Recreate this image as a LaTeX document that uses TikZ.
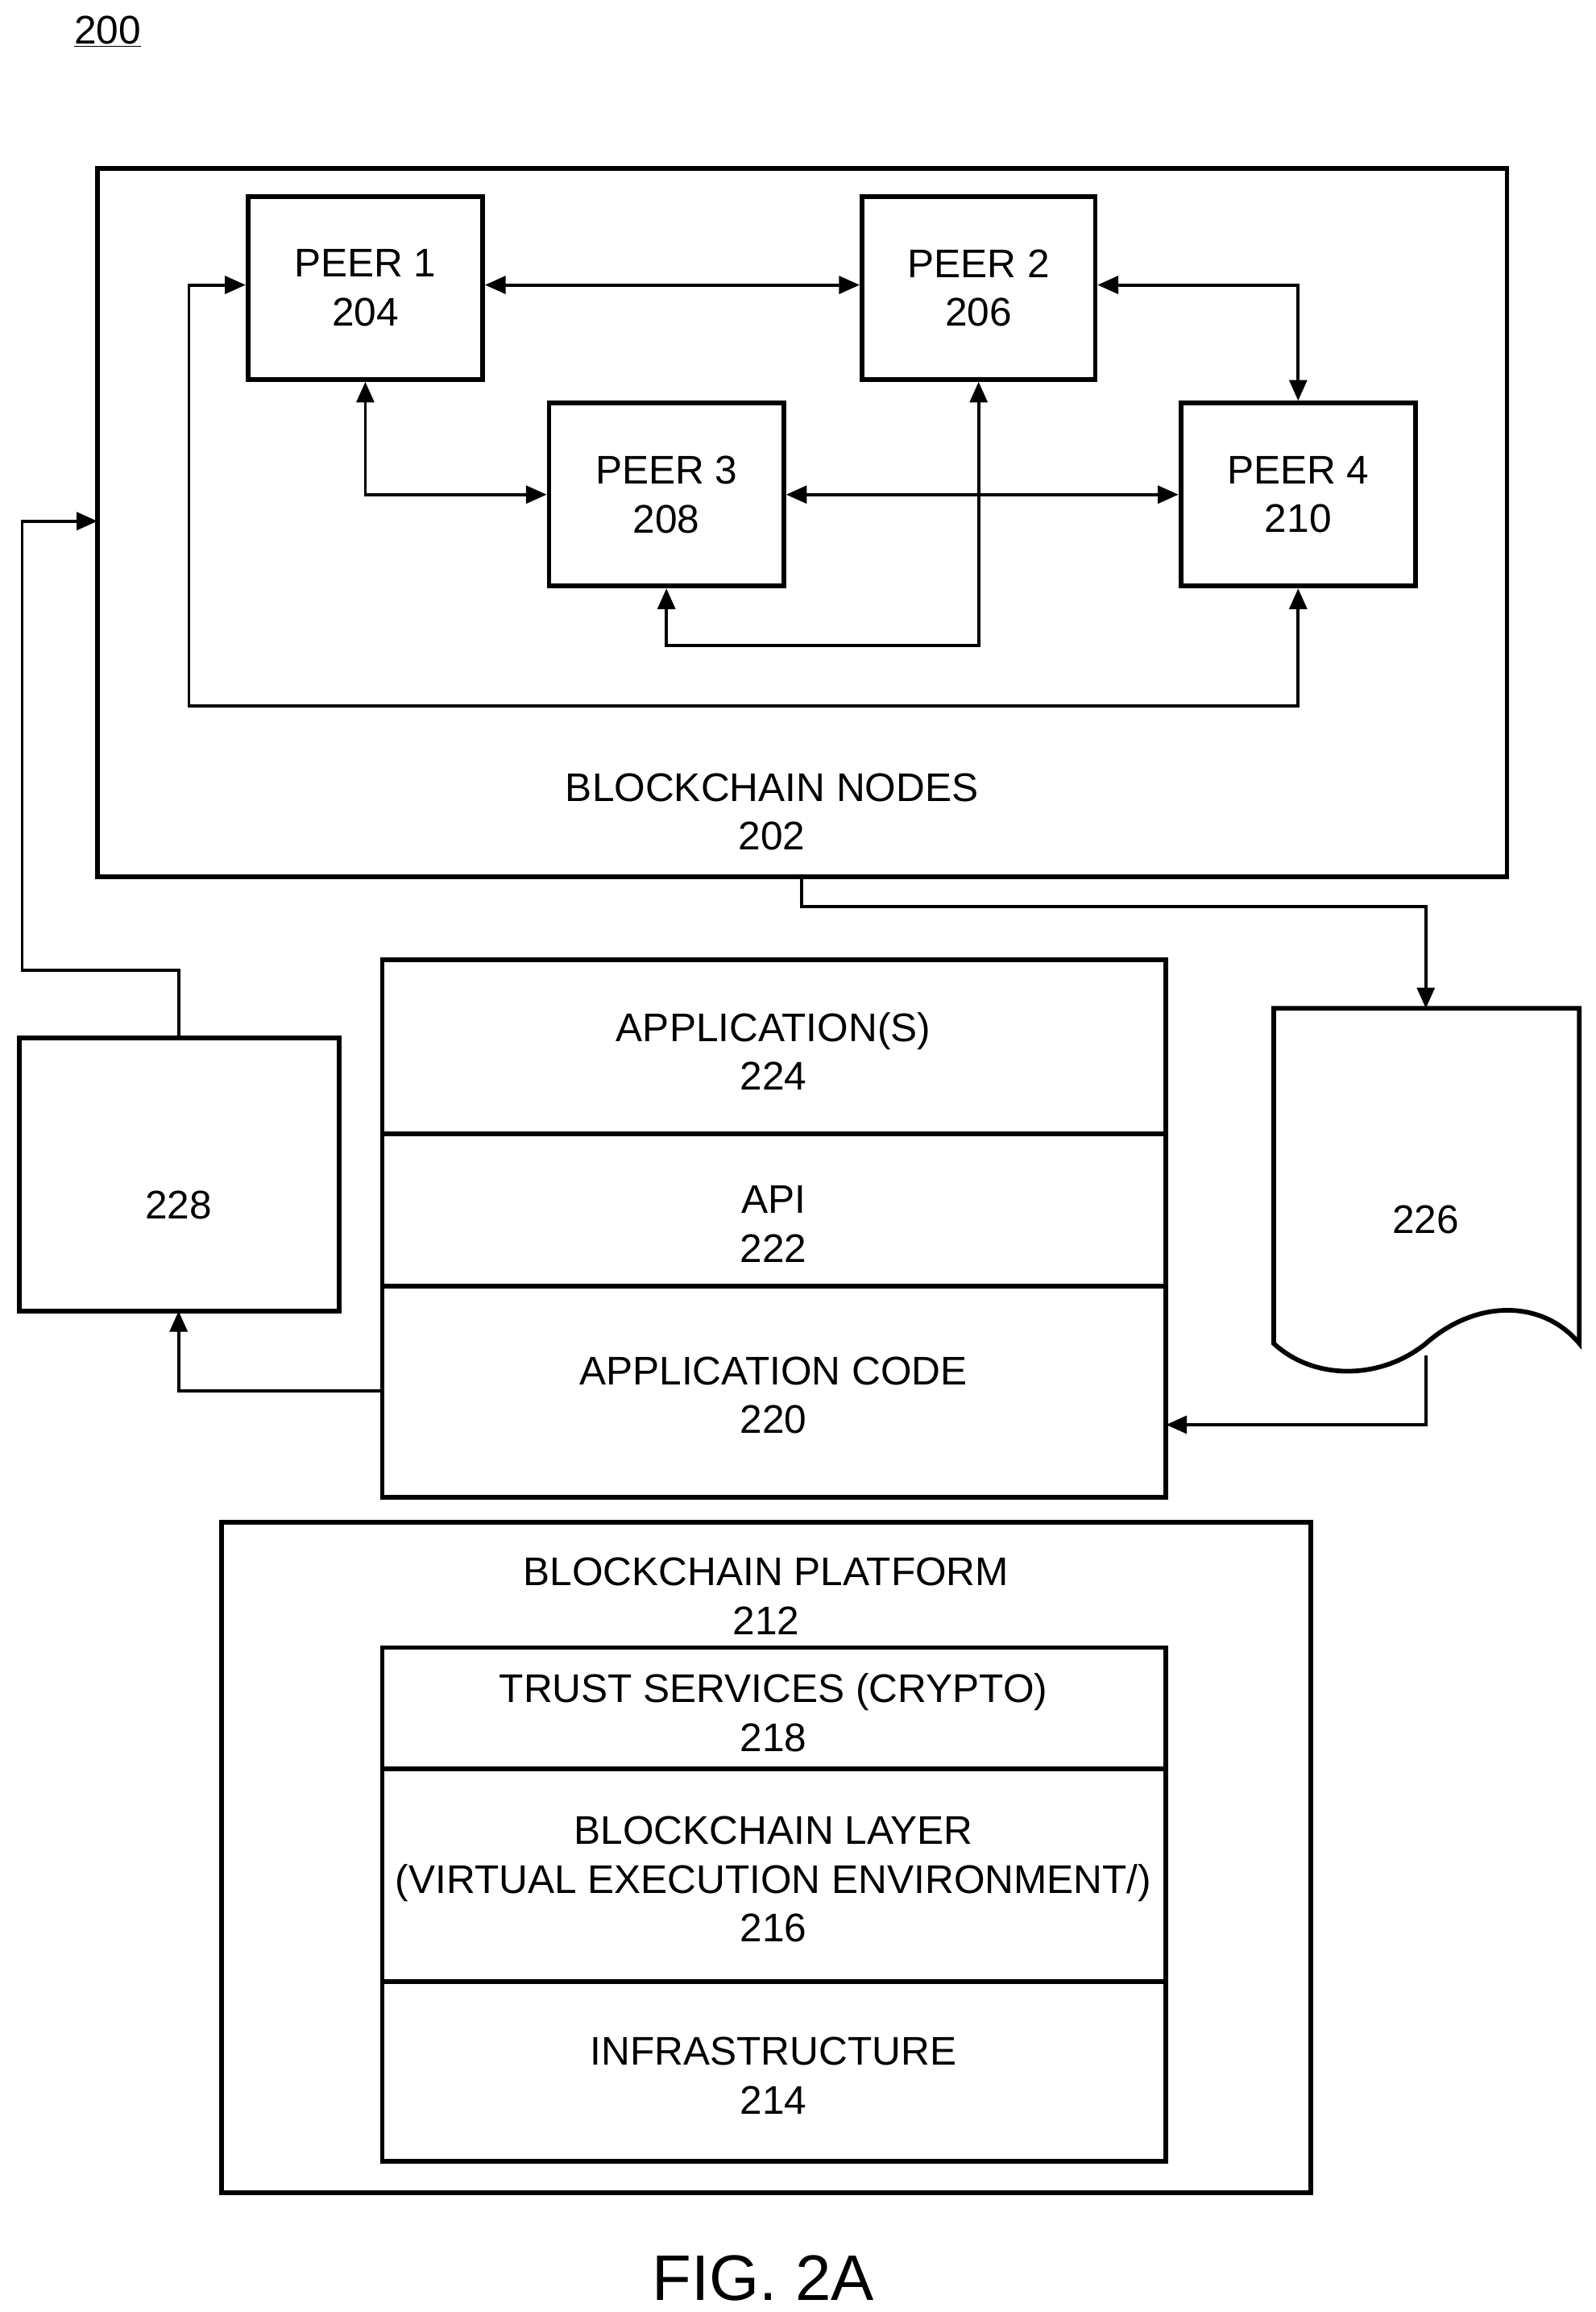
\documentclass[tikz,border=0pt]{standalone}
\usepackage{fontspec}
\setmainfont{Liberation Sans}
\usetikzlibrary{arrows.meta}
\begin{document}
\begin{tikzpicture}[x=0.05cm,y=-0.05cm,
  box/.style={draw,line width=4.5pt},
  lbl/.style={font=\fontsize{38.5}{47}\selectfont,align=center,inner sep=0},
  con/.style={line width=3pt},
  arr/.style={con,-{Triangle[length=20pt,width=17pt]}},
  darr/.style={con,{Triangle[length=20pt,width=17pt]}-{Triangle[length=20pt,width=17pt]}}]
\useasboundingbox (0,0) rectangle (1081,1566);
\node[lbl,anchor=base] (fig) at (73,30) {\underline{200}};
\draw[box] (66,114) rectangle (1021,594);
\node[lbl] (bn) at (523,550) {BLOCKCHAIN NODES\\202};
\coordinate (outer) at (66,353);
\node[box,minimum width=159*0.05cm,minimum height=124*0.05cm] (p1) at (247.5,195) {};
\node[lbl] at (p1) {PEER 1\\204};
\node[box,minimum width=158*0.05cm,minimum height=124*0.05cm] (p2) at (663,195) {};
\node[lbl] at (p2) {PEER 2\\206};
\node[box,minimum width=159*0.05cm,minimum height=124*0.05cm] (p3) at (451.5,335) {};
\node[lbl] at (p3) {PEER 3\\208};
\node[box,minimum width=159*0.05cm,minimum height=124*0.05cm] (p4) at (879.5,335) {};
\node[lbl] at (p4) {PEER 4\\210};
\draw[darr] (p1.east |- 0,193) -- (p2.west |- 0,193);
\draw[darr] (p2.east |- 0,193) -| (p4.north);
\draw[darr] (p1.south) |- (p3.west);
\draw[darr] (p3.east) -- (p4.west);
\draw[darr] (p2.south) |- (540,437) -| (p3.south);
\draw[darr] (p1.west |- 0,193) -| (128,478) -| (p4.south);
% 228
\draw[box] (13,703) rectangle (230,888);
\node[lbl] (n228) at (121,816) {228};
\draw[arr] (121,703) |- (15,657) |- (outer);
% stack
\draw[box] (259,650) rectangle (790,1014);
\draw[box] (259,768) -- (790,768);
\draw[box] (259,871) -- (790,871);
\node[lbl] (a224) at (524,712) {APPLICATION(S)\\224};
\node[lbl] (a222) at (524,829) {API\\222};
\node[lbl] (a220) at (524,945) {APPLICATION CODE\\220};
\draw[arr] (259,942) -| (121,888);
% document
\draw[box] (863,683) -- (1070,683) -- (1070,910)
  .. controls (1045,880) and (1000,880) .. (966,910)
  .. controls (935,935) and (890,935) .. (863,910) -- cycle;
\node[lbl] (d226) at (966,826) {226};
\draw[arr] (543,594) |- (966,614) -- (966,683);
\draw[arr] (966,918) |- (790,965);
% platform
\draw[box] (150,1031) rectangle (888,1485);
\node[lbl] (bp) at (519,1081) {BLOCKCHAIN PLATFORM\\212};
\draw[box] (259,1116) rectangle (790,1464);
\draw[box] (259,1198) -- (790,1198);
\draw[box] (259,1342) -- (790,1342);
\node[lbl] (t218) at (524,1160) {TRUST SERVICES (CRYPTO)\\218};
\node[lbl] (b216) at (524,1273) {BLOCKCHAIN LAYER\\(VIRTUAL EXECUTION ENVIRONMENT/)\\216};
\node[lbl] (i214) at (524,1406) {INFRASTRUCTURE\\214};
\node[lbl,font=\fontsize{62}{70}\selectfont] (cap) at (517,1543) {FIG. 2A};
\end{tikzpicture}
\end{document}
